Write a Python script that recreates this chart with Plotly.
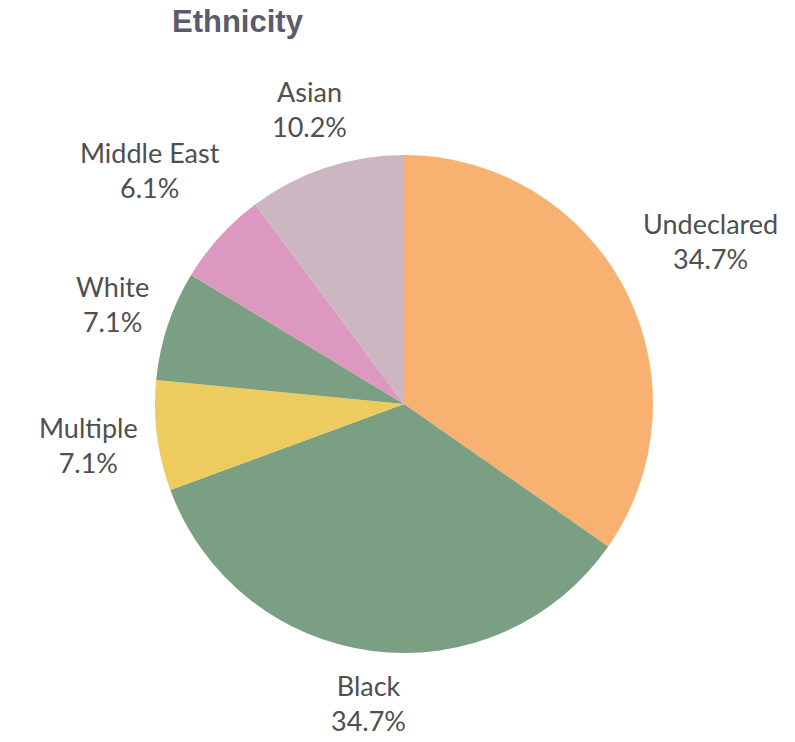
import plotly.graph_objects as go

# Respondent counts per ethnicity group (clockwise from 12 o'clock)
categories = ["Undeclared", "Black", "Multiple", "White", "Middle East", "Asian"]
counts = [34, 34, 7, 7, 6, 10]
colors = ["#F9B171", "#7A9F83", "#EDCB5E", "#7A9F83", "#DD98BF", "#CBB6C1"]

# Label anchor points in pixels (centre of the two-line label)
label_px = {
    "Undeclared": (710, 241),
    "Black": (368, 703),
    "Multiple": (88, 445),
    "White": (112, 304),
    "Middle East": (150, 170),
    "Asian": (309, 109),
}

W, H = 795, 742
cx, cy, r = 404, 404, 249

fig = go.Figure(
    go.Pie(
        labels=categories,
        values=counts,
        marker=dict(colors=colors, line=dict(width=0)),
        sort=False,
        direction="clockwise",
        rotation=0,
        textinfo="none",
        hoverinfo="label+percent",
        showlegend=False,
        domain=dict(
            x=[(cx - r) / W, (cx + r) / W],
            y=[1 - (cy + r) / H, 1 - (cy - r) / H],
        ),
    )
)

total = sum(counts)
annotations = []
for name, v in zip(categories, counts):
    px, py = label_px[name]
    annotations.append(
        dict(
            x=px / W,
            y=1 - py / H,
            xref="paper",
            yref="paper",
            text=f"{name}<br>{v / total * 100:.1f}%",
            showarrow=False,
            xanchor="center",
            yanchor="middle",
            font=dict(family="Lato", size=27, color="#4f4f4f"),
        )
    )

annotations.append(
    dict(
        x=238 / W,
        y=1 - 22 / H,
        xref="paper",
        yref="paper",
        text="<b>Ethnicity</b>",
        showarrow=False,
        xanchor="center",
        yanchor="middle",
        font=dict(family="Liberation Sans", size=31, color="#5B5B6B"),
    )
)

fig.update_layout(
    width=W,
    height=H,
    margin=dict(l=0, r=0, t=0, b=0),
    paper_bgcolor="white",
    plot_bgcolor="white",
    annotations=annotations,
)

fig.write_html("out.html")
